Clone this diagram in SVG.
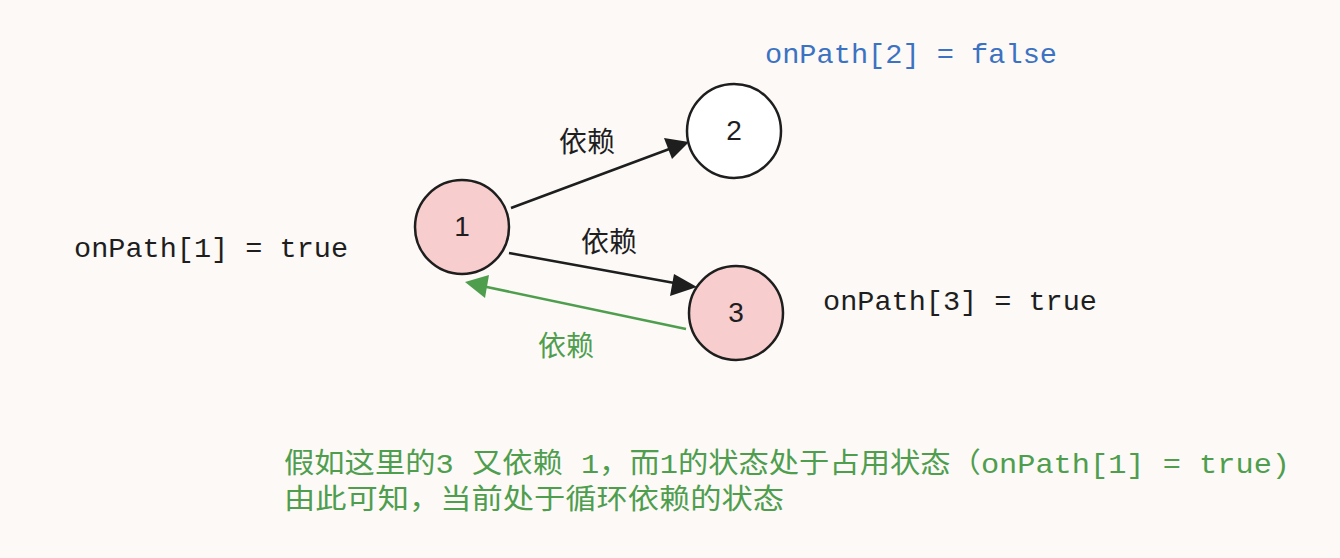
<svg xmlns="http://www.w3.org/2000/svg" width="1340" height="558" viewBox="0 0 1340 558">
<style>
.node{stroke:#1e1e1e;stroke-width:2.5}
.pink{fill:#f7cdcd}
.white{fill:#ffffff}
.num{font-family:"Liberation Sans","Noto Sans",sans-serif;font-size:28px;fill:#1e1e1e;text-anchor:middle}
.mono{font-family:"Liberation Mono","DejaVu Sans Mono",monospace;font-size:28px}
.cjk{font-family:"Liberation Mono","Noto Sans CJK SC",monospace;font-size:28px}
.edge{stroke:#1e1e1e;stroke-width:2.5;fill:none}
.gedge{stroke:#4e9e4e;stroke-width:2.5;fill:none}
</style>
<rect width="1340" height="558" fill="#fcf9f7"/>
<g id="connectors">
<line class="edge" x1="511" y1="208" x2="672" y2="148"/>
<path d="M689,142 L664,138 L672,159 z" fill="#1e1e1e"/>
<line class="edge" x1="509" y1="253" x2="680" y2="284"/>
<path d="M697,287 L674,274 L670,296 z" fill="#1e1e1e"/>
<line class="gedge" x1="686" y1="329" x2="482" y2="286"/>
<path d="M465,282 L489,275 L485,298 z" fill="#4e9e4e"/>
<text class="cjk" x="587" y="152" text-anchor="middle" fill="#1e1e1e">依赖</text>
<text class="cjk" x="609" y="252" text-anchor="middle" fill="#1e1e1e">依赖</text>
<text class="cjk" x="566" y="356" text-anchor="middle" fill="#4e9e4e">依赖</text>
</g>
<g id="node1">
<circle class="node pink" cx="462" cy="227" r="47"/>
<text class="num" x="462" y="236">1</text>
</g>
<g id="node2">
<circle class="node white" cx="734" cy="131" r="47"/>
<text class="num" x="734" y="140">2</text>
</g>
<g id="node3">
<circle class="node pink" cx="736" cy="313" r="47"/>
<text class="num" x="736" y="322">3</text>
</g>
<g id="labels">
<text class="mono" x="74" y="257" fill="#1e1e1e" textLength="274" lengthAdjust="spacingAndGlyphs">onPath[1] = true</text>
<text class="mono" x="823" y="310" fill="#1e1e1e" textLength="274" lengthAdjust="spacingAndGlyphs">onPath[3] = true</text>
<text class="mono" x="765" y="63" fill="#3b72c2" textLength="292" lengthAdjust="spacingAndGlyphs">onPath[2] = false</text>
<text class="cjk" x="284" y="473" fill="#4e9e4e" textLength="1006" lengthAdjust="spacingAndGlyphs">假如这里的3 又依赖 1，而1的状态处于占用状态（onPath[1] = true)</text>
<text class="cjk" x="284" y="509" fill="#4e9e4e" textLength="500" lengthAdjust="spacingAndGlyphs">由此可知，当前处于循环依赖的状态</text>
</g>
</svg>
